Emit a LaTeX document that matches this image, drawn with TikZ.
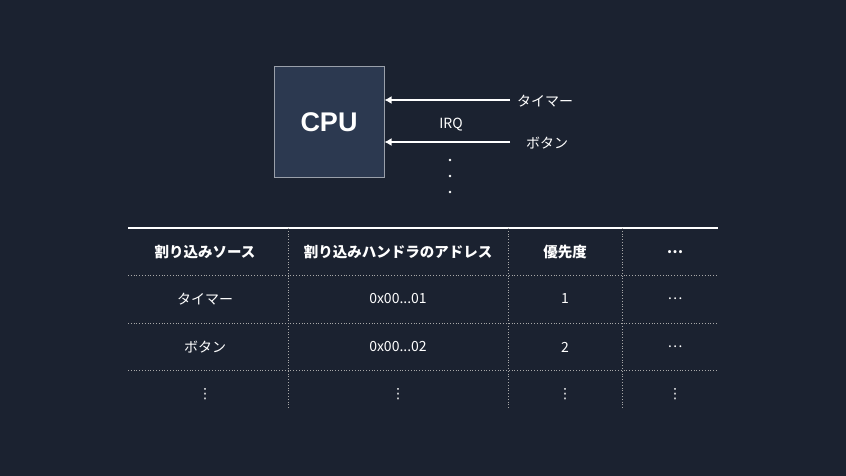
\documentclass[tikz,border=0pt]{standalone}
\usepackage{fontspec}
\usetikzlibrary{arrows.meta}
\setmainfont{Noto Sans CJK JP}
\newfontfamily\dejavu{DejaVu Sans}
\newfontfamily\arialb{Liberation Sans}
\definecolor{bg}{HTML}{1B2230}
\definecolor{cpufill}{HTML}{2C3950}
\definecolor{cpuline}{HTML}{9AA0AA}
\definecolor{grid}{HTML}{A8A8A8}
\begin{document}
\begin{tikzpicture}[x=1pt,y=-1pt,
  txt/.style={text=white,font=\fontsize{14}{16}\selectfont,inner sep=0},
  hdr/.style={text=white,font=\fontsize{14.5}{16}\selectfont\bfseries,inner sep=0},
  sep/.style={grid,line width=0.8pt,dotted},
  arr/.style={white,line width=1.5pt,-{Latex[length=7pt,width=8pt]}}]
\fill[bg] (0,0) rectangle (846,476);
\useasboundingbox (0,0) rectangle (846,476);
\node[draw=cpuline,fill=cpufill,line width=1pt,minimum width=110pt,minimum height=110pt,inner sep=0,
  text=white,font=\arialb\fontsize{27}{30}\selectfont\bfseries] (cpu) at (329,122) {CPU};
\node[txt,anchor=west] (timer) at (517,101) {タイマー};
\node[txt,anchor=west] (btn) at (526,143) {ボタン};
\coordinate (t0) at (510,100);
\coordinate (b0) at (510,142);
\draw[arr] (t0) -- (cpu.east |- t0);
\draw[arr] (b0) -- (cpu.east |- b0);
\node[txt] (irq) at (451,125) {IRQ};
\foreach \y/\n in {160/d1,176/d2,192/d3} \fill[white] (450,\y) circle (1.4pt);
% table
\draw[white,line width=1.5pt] (128,228) -- (718,228);
\foreach \y in {275,323,370} \draw[sep] (128,\y) -- (718,\y);
\foreach \x in {288,508,622} \draw[sep] (\x,228) -- (\x,408);
\node[hdr] (h1) at (205,252) {割り込みソース};
\node[hdr] (h2) at (398,252) {割り込みハンドラのアドレス};
\node[hdr] (h3) at (565,252) {優先度};
\node[hdr] (h4) at (675,252) {…};
\node[txt] (a1) at (205,299) {タイマー};
\node[txt] (a2) at (398,299) {0x00...01};
\node[txt] (a3) at (565,299) {1};
\node[txt] (a4) at (675,299) {…};
\node[txt] (b1) at (205,347) {ボタン};
\node[txt] (b2) at (398,347) {0x00...02};
\node[txt] (b3) at (565,347) {2};
\node[txt] (b4) at (675,347) {…};
\foreach \x/\n in {205/c1,398/c2,565/c3,675/c4} \node[txt,font=\dejavu\fontsize{14}{16}\selectfont] (\n) at (\x,394) {⋮};
\end{tikzpicture}
\end{document}
